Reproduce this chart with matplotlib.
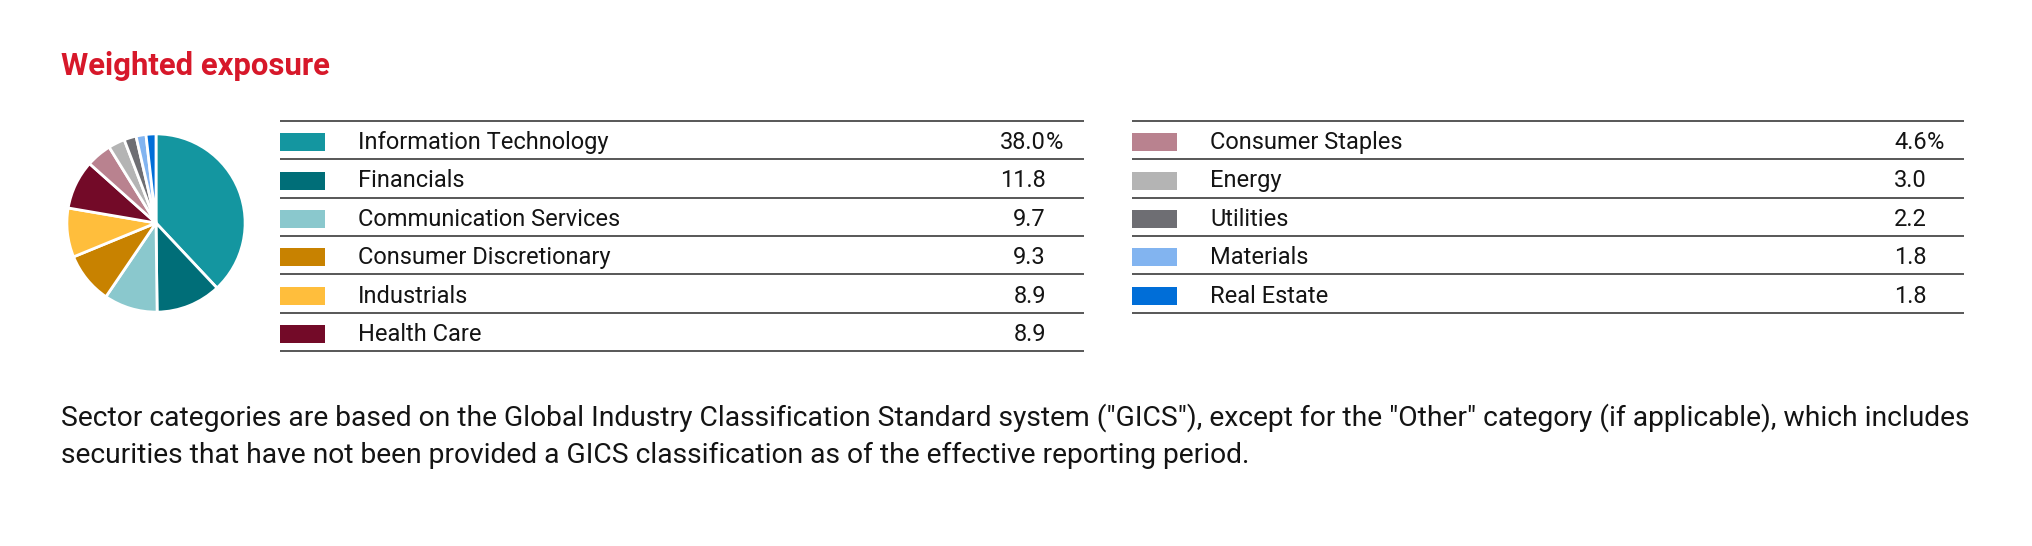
import matplotlib
matplotlib.use("Agg")
import matplotlib.pyplot as plt
from matplotlib.patches import Rectangle

plt.rcParams['font.family'] = ['Roboto', 'DejaVu Sans']

# data
sectors = ["Information Technology", "Financials", "Communication Services",
           "Consumer Discretionary", "Industrials", "Health Care",
           "Consumer Staples", "Energy", "Utilities", "Materials", "Real Estate"]
weights = [38.0, 11.8, 9.7, 9.3, 8.9, 8.9, 4.6, 3.0, 2.2, 1.8, 1.8]
colors = ["#1496A0", "#006E78", "#8AC8CD", "#C88200", "#FFBE3C", "#730A28",
          "#B9828F", "#B4B4B4", "#6E6E73", "#82B4F0", "#006ED8"]
title = "Weighted exposure"
footnote = ['Sector categories are based on the Global Industry Classification Standard system ("GICS"), '
            'except for the "Other" category (if applicable), which includes',
            'securities that have not been provided a GICS classification as of the effective reporting period.']

W, H = 2032, 546
TXT = "#141414"
fig = plt.figure(figsize=(W / 100, H / 100), dpi=100)
fig.patch.set_facecolor("white")

# pie, centre (156, 223) px, radius 90 px
pie_ax = fig.add_axes([66 / W, 1 - 313 / H, 180 / W, 180 / H])
pie_ax.pie(weights, colors=colors, startangle=90, counterclock=False,
           wedgeprops=dict(edgecolor="white", linewidth=2))
pie_ax.set_xlim(-1.01, 1.01)
pie_ax.set_ylim(-1.01, 1.01)
pie_ax.set_aspect("equal")
pie_ax.axis("off")

# overlay axes in pixel units, y down
ax = fig.add_axes([0, 0, 1, 1])
ax.set_xlim(0, W)
ax.set_ylim(H, 0)
ax.axis("off")
renderer = fig.canvas.get_renderer()


def fit(t, width):
    """scale fontsize so that the text has the given pixel width"""
    w = t.get_window_extent(renderer).width
    t.set_fontsize(t.get_fontsize() * width / w)
    return t


fit(ax.text(61, 75, title, fontsize=20, fontweight="bold", color="#D7182A",
            va="baseline"), 269)

label_size = fit(ax.text(358, 0, sectors[0], fontsize=16, alpha=0), 251).get_fontsize()

top = 120.7
row_h = 38.4
columns = [(0, 6, 280, 1084, 1046), (6, 11, 1132, 1964, 1927)]
for start, stop, x0, x1, xval in columns:
    n = stop - start
    for k in range(n + 1):
        y = top + k * row_h
        ax.plot([x0, x1], [y, y], color="#2a2a2a", lw=1.1, solid_capstyle="butt")
    for k, i in enumerate(range(start, stop)):
        y = top + k * row_h
        ax.add_patch(Rectangle((x0, y + 12.5), 45, 18, color=colors[i], lw=0))
        ax.text(x0 + 78, y + 28.3, sectors[i], fontsize=label_size, color=TXT,
                va="baseline", ha="left")
        ax.text(xval, y + 28.3, f"{weights[i]:.1f}", fontsize=label_size, color=TXT,
                va="baseline", ha="right")
        if k == 0:
            ax.text(xval, y + 28.3, "%", fontsize=label_size, color=TXT,
                    va="baseline", ha="left")

fn = fit(ax.text(61, 426, footnote[0], fontsize=17, color=TXT, va="baseline"), 1914)
ax.text(61, 463, footnote[1], fontsize=fn.get_fontsize(), color=TXT, va="baseline")

fig.savefig("out.png", dpi=100, facecolor="white")
